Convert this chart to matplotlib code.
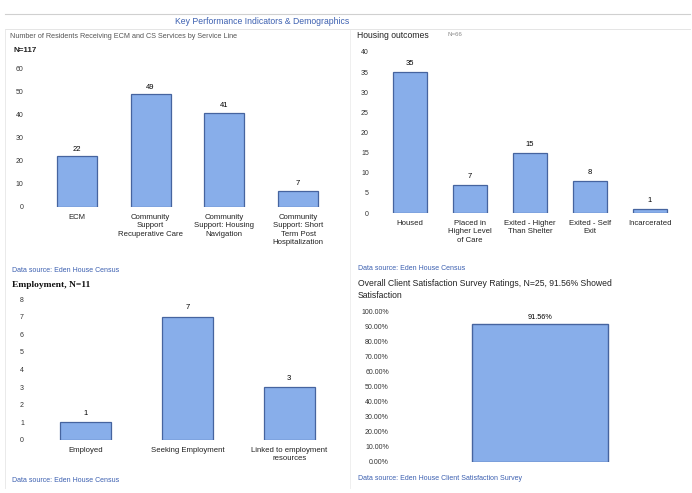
import matplotlib
matplotlib.use("Agg")
import matplotlib.pyplot as plt

W, H = 692, 493

# ---------------- data ----------------
svc_cats = ["ECM", "Community\nSupport\nRecuperative Care", "Community\nSupport: Housing\nNavigation",
            "Community\nSupport: Short\nTerm Post\nHospitalization"]
svc_vals = [22, 49, 41, 7]
svc_ticks = [0, 10, 20, 30, 40, 50, 60]

house_cats = ["Housed", "Placed in\nHigher Level\nof Care", "Exited - Higher\nThan Shelter",
              "Exited - Self\nExit", "Incarcerated"]
house_vals = [35, 7, 15, 8, 1]
house_ticks = [0, 5, 10, 15, 20, 25, 30, 35, 40]

emp_cats = ["Employed", "Seeking Employment", "Linked to employment\nresources"]
emp_vals = [1, 7, 3]
emp_ticks = [0, 1, 2, 3, 4, 5, 6, 7, 8]

sat_cats = ["Satisfied"]
sat_vals = [91.56]
sat_ticks = [0, 10, 20, 30, 40, 50, 60, 70, 80, 90, 100]

BAR = "#88aeea"
EDGE = "#46649f"
BLUE_TXT = "#3b5fb0"
FONT = "Liberation Sans"

plt.rcParams['font.family'] = [FONT, 'DejaVu Sans']

fig = plt.figure(figsize=(W / 100, H / 100), dpi=100)
fig.patch.set_facecolor("white")


def ax_px(x0, y0, x1, y1):
    """axes from pixel box (top-left origin)"""
    return fig.add_axes([x0 / W, 1 - y1 / H, (x1 - x0) / W, (y1 - y0) / H])


def txt(x, y, s, **kw):
    fig.text(x / W, 1 - y / H, s, **kw)


def style(ax, ticks, fmt=None, lab_fs=5.6, pad=8):
    for sp in ax.spines.values():
        sp.set_visible(False)
    ax.set_yticks(ticks)
    if fmt:
        ax.set_yticklabels([fmt(t) for t in ticks])
    ax.set_ylim(ticks[0], ticks[-1])
    ax.tick_params(axis='y', length=0, labelsize=5.0, colors="#333333", pad=pad)
    ax.tick_params(axis='x', length=0, labelsize=lab_fs, colors="#222222", pad=5)
    ax.set_facecolor("none")


# page decorations
fig.add_artist(plt.Line2D([5 / W, 690 / W], [1 - 14 / H, 1 - 14 / H], color="#d0d0d0", lw=0.8))
fig.add_artist(plt.Line2D([5 / W, 690 / W], [1 - 29 / H, 1 - 29 / H], color="#e0e0e0", lw=0.6))
fig.add_artist(plt.Line2D([350 / W, 350 / W], [1 - 30 / H, 1 - 488 / H], color="#ececec", lw=0.6))
fig.add_artist(plt.Line2D([5 / W, 5 / W], [1 - 30 / H, 1 - 488 / H], color="#e6e6e6", lw=0.6))
txt(262, 22, "Key Performance Indicators & Demographics", ha="center", va="center",
    fontsize=6.2, color=BLUE_TXT)

# ---------------- top-left ----------------
ax1 = ax_px(40, 69, 335, 207)
x = range(len(svc_vals))
ax1.bar(x, svc_vals, width=0.54, color=BAR, edgecolor=EDGE, linewidth=0.9)
for i, v in enumerate(svc_vals):
    ax1.text(i, v + 1.5, str(v), ha="center", va="bottom", fontsize=5.5)
ax1.set_xticks(list(x))
ax1.set_xticklabels(svc_cats, va="top", linespacing=1.3)
ax1.set_xlim(-0.5, len(svc_vals) - 0.5)
style(ax1, svc_ticks, pad=12)
txt(10, 37, "Number of Residents Receiving ECM and CS Services by Service Line", fontsize=5.2,
    color="#555555", va="center")
txt(14, 50, "N=117", fontsize=5.8, color="#222222", va="center", fontweight="bold")
txt(12, 270, "Data source: Eden House Census", fontsize=5, color=BLUE_TXT, va="center")

# ---------------- top-right ----------------
ax2 = ax_px(380, 52, 680, 213)
x = range(len(house_vals))
ax2.bar(x, house_vals, width=0.58, color=BAR, edgecolor=EDGE, linewidth=0.9)
for i, v in enumerate(house_vals):
    ax2.text(i, v + 1.2, str(v), ha="center", va="bottom", fontsize=5.5)
ax2.set_xticks(list(x))
ax2.set_xticklabels(house_cats, va="top", linespacing=1.3)
ax2.set_xlim(-0.5, len(house_vals) - 0.5)
style(ax2, house_ticks)
txt(357, 36, "Housing outcomes", fontsize=6.2, color="#222222", va="center")
txt(448, 35, "N=66", fontsize=4.4, color="#888888", va="center")
txt(358, 268, "Data source: Eden House Census", fontsize=5, color=BLUE_TXT, va="center")

# ---------------- bottom-left ----------------
ax3 = ax_px(35, 299, 340, 440)
x = range(len(emp_vals))
ax3.bar(x, emp_vals, width=0.5, color=BAR, edgecolor=EDGE, linewidth=0.9)
for i, v in enumerate(emp_vals):
    ax3.text(i, v + 0.3, str(v), ha="center", va="bottom", fontsize=5.5)
ax3.set_xticks(list(x))
ax3.set_xticklabels(emp_cats, va="top", linespacing=1.3)
ax3.set_xlim(-0.5, len(emp_vals) - 0.5)
style(ax3, emp_ticks)
txt(12, 285, "Employment, N=11", fontsize=6.8, color="#111111", va="center", fontweight="bold",
    family="Liberation Serif")
txt(12, 481, "Data source: Eden House Census", fontsize=5, color=BLUE_TXT, va="center")

# ---------------- bottom-right ----------------
ax4 = ax_px(400, 311, 680, 462)
ax4.bar([0], sat_vals, width=0.6, color=BAR, edgecolor=EDGE, linewidth=1.0)
ax4.text(0, sat_vals[0] + 2, f"{sat_vals[0]:.2f}%", ha="center", va="bottom", fontsize=5.2)
ax4.set_xlim(-0.62, 0.62)
ax4.set_xticks([])
style(ax4, sat_ticks, fmt=lambda t: f"{t:.2f}%")
txt(358, 283, "Overall Client Satisfaction Survey Ratings, N=25, 91.56% Showed", fontsize=6.2,
    color="#222222", va="center")
txt(358, 295, "Satisfaction", fontsize=6.2, color="#222222", va="center")
txt(358, 478, "Data source: Eden House Client Satisfaction Survey", fontsize=5, color=BLUE_TXT,
    va="center")

fig.savefig("out.png", dpi=100, facecolor="white")
